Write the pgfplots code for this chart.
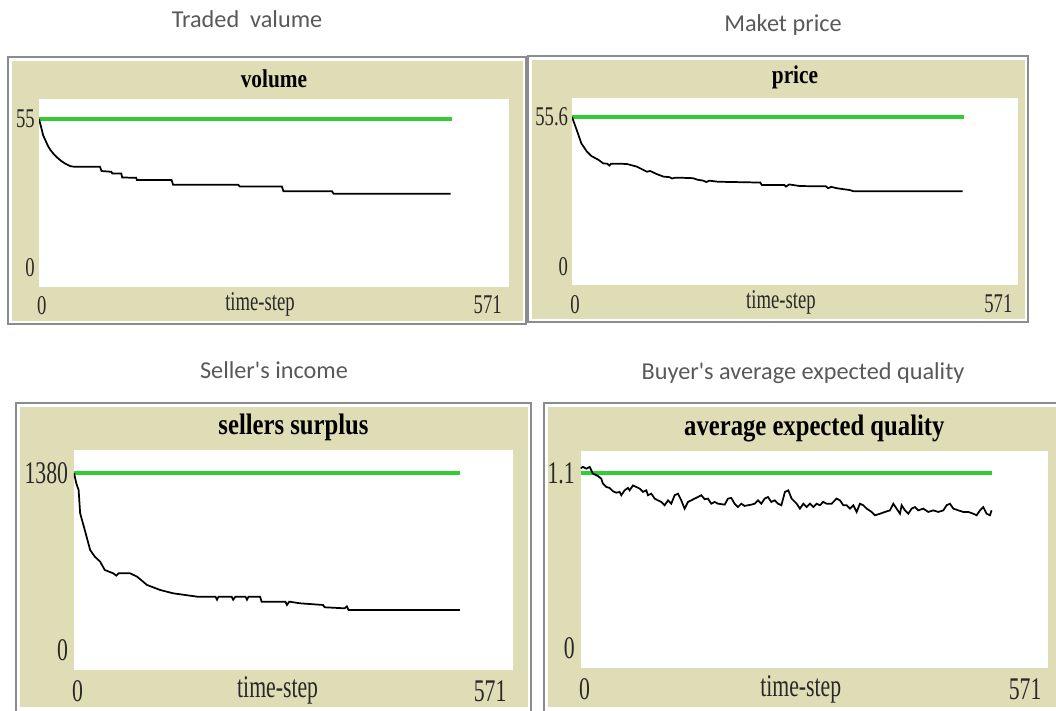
\documentclass[border=0pt]{standalone}
\usepackage{pgfplots}
\pgfplotsset{compat=1.18}
\usepackage{fontspec}
\setmainfont{Liberation Serif}
\newfontfamily\calfont{Carlito}
\definecolor{nlbeige}{RGB}{223,221,181}
\definecolor{nlgreen}{RGB}{50,205,50}
\definecolor{nlframe}{RGB}{140,140,140}
\definecolor{captgray}{RGB}{89,89,89}
\definecolor{nltext}{RGB}{40,40,40}

\pgfplotsset{
  nlbase/.style={
    scale only axis, xmin=0, xmax=571,
    axis line style={draw=none}, major tick length=0pt,
    axis background/.style={fill=white},
    xtick={0}, xticklabels={0},
    extra x ticks={571}, extra x tick labels={571},
    x tick label style={anchor=north, inner sep=0pt, yscale=1.45, text=nltext},
    y tick label style={anchor=east, inner sep=0pt, yscale=1.45, text=nltext},
    title style={at={(axis description cs:0.5,1)}, anchor=base, inner sep=0pt},
    xlabel style={at={(axis description cs:0.5,0)}, anchor=base, inner sep=0pt, text=nltext},
    xlabel={time-step},
  },
  nltop/.style={nlbase,
    tick label style={font=\fontsize{14}{16}\selectfont},
    label style={font=\fontsize{14}{16}\selectfont},
    title style={font=\bfseries\fontsize{16}{18}\selectfont},
  },
  nlbot/.style={nlbase,
    tick label style={font=\fontsize{16.3}{18}\selectfont},
    label style={font=\fontsize{16.3}{18}\selectfont},
    title style={font=\bfseries\fontsize{18.5}{20}\selectfont},
  },
  blk/.style={black, line width=1.3pt},
  grn/.style={nlgreen, line width=3pt},
}

\begin{document}
\begin{tikzpicture}
\fill[white] (0,0) rectangle (792pt,532.5pt);
\path[use as bounding box] (0,0) rectangle (792pt,532.5pt);
\begin{scope}[yshift=532.5pt, x=0.75pt, y=-0.75pt]
  % frames
  \draw[nlframe, line width=1.5pt] (8,57) rectangle (526,324);
  \fill[nlbeige] (11.5,61) rectangle (523,321);
  \draw[nlframe, line width=1.5pt] (528,56) rectangle (1028,322);
  \fill[nlbeige] (532,60) rectangle (1025,319);
  \draw[nlframe, line width=1.5pt] (16,403) rectangle (531,712);
  \fill[nlbeige] (20,407) rectangle (528,707);
  \draw[nlframe, line width=1.5pt] (544,403) rectangle (1060,712);
  \fill[nlbeige] (548,407) rectangle (1056,707);
  % captions
  \begin{scope}[font=\calfont\fontsize{18.2}{21}\selectfont, text=captgray]
    \node at (247,19) {Traded\ \ valume};
    \node at (783,25) {Maket price};
    \node at (274,370) {Seller's income};
    \node at (803,373) {Buyer's average expected quality};
  \end{scope}
\end{scope}

% Panel 1: volume
\begin{axis}[nltop, at={(29.25pt,317.25pt)}, anchor=south west,
  width=352.5pt, height=141pt, ymin=-7.01, ymax=62.38,
  ytick={0,55}, yticklabels={0,55},
  x tick label style={xshift=2pt, yshift=-4.5pt},
  extra x tick style={x tick label style={anchor=north east, xshift=-7.25pt}},
  y tick label style={xshift=-3pt},
  title={volume}, title style={yshift=2.8pt, yscale=1.2},
  xlabel style={yshift=-17.8pt, xshift=-10.5pt, yscale=1.45}]
\addplot[grn] coordinates {(0,55) (502,55)};
\addplot[blk] coordinates {
(0,55) (3,51.5) (5,49) (8,47) (11,45) (14,43.5) (18,42) (22,40.8) (27,39.5)
(32,38.5) (38,37.6) (42,37.4) (74,37.4) (76,35.8) (88,35.5) (89,34.9) (100,34.9)
(101,33.4) (118,33.3) (119,32.5) (161,32.5) (163,30.7) (242,30.7) (244,30.1)
(295,30.1) (297,28.3) (356,28.3) (358,27.4) (500,27.4)};
\node[xshift=-11.25pt, rotate=90, xscale=1.45, inner sep=0pt, text=nltext,
  font=\fontsize{14}{16}\selectfont] at (rel axis cs:0,0.5) {units};
\end{axis}

% Panel 2: price
\begin{axis}[nltop, at={(429pt,318.75pt)}, anchor=south west,
  width=334.5pt, height=140.25pt, ymin=-6.67, ymax=62.64,
  ytick={0,55.6}, yticklabels={0,55.6},
  x tick label style={xshift=2.25pt, yshift=-5pt},
  extra x tick style={x tick label style={anchor=north east, xshift=-6.25pt}},
  y tick label style={xshift=-2.8pt},
  title={price}, title style={yshift=5pt, yscale=1.2},
  xlabel style={yshift=-17.5pt, xshift=-10.6pt, yscale=1.45}]
\addplot[grn] coordinates {(0,55.6) (502,55.6)};
\addplot[blk] coordinates {
(0,55.6) (6,50.8) (12,45.8) (19,42.8) (25,41.1) (34,39.7) (40,38.4) (45,38.3)
(48,37.6) (50,38.3) (70,38.2) (83,37.2) (96,35.3) (100,35.6) (108,34.5)
(117,33.5) (125,33.3) (128,32.8) (132,33.1) (150,33.0) (155,32.9) (160,32.4)
(168,32.0) (172,31.5) (176,32.0) (187,31.6) (241,31.3) (243,30.4) (272,30.4)
(274,29.8) (278,30.6) (292,30.0) (325,29.9) (328,29.2) (332,29.7) (339,29.2)
(356,28.5) (360,28.1) (500,28.1)};
\end{axis}

% Panel 3: sellers surplus
\begin{axis}[nlbot, at={(55.5pt,30pt)}, anchor=south west,
  width=329.25pt, height=165pt, ymin=-155.9, ymax=1559.3,
  ytick={0,1380}, yticklabels={0,1380},
  x tick label style={xshift=2.6pt, yshift=-5.5pt},
  extra x tick style={x tick label style={anchor=north east, xshift=-7.3pt}},
  y tick label style={xshift=-4.3pt},
  title={sellers surplus}, title style={yshift=5.25pt, yscale=1.2},
  xlabel style={yshift=-21pt, xshift=-11.9pt, yscale=1.45}]
\addplot[grn] coordinates {(0,1380) (502,1380)};
\addplot[blk] coordinates {
(0,1380) (3,1300) (6,1247) (8,1066) (14,936) (21,780) (27,728) (34,689)
(40,624) (51,598) (55,580) (58,598) (73,598) (82,572) (95,507) (112,468)
(129,442) (160,416) (184,416) (186,392) (188,416) (205,416) (207,392) (210,416)
(223,416) (225,392) (227,416) (242,416) (244,377) (275,377) (277,351) (280,377)
(294,364) (324,351) (326,333) (352,325) (355,340) (357,312) (502,312)};
\end{axis}

% Panel 4: average expected quality
\begin{axis}[nlbot, at={(435.5pt,31.5pt)}, anchor=south west,
  width=350.5pt, height=163pt, ymin=-0.1257, ymax=1.2402,
  ytick={0,1.1}, yticklabels={0,1.1},
  x tick label style={xshift=3pt, yshift=-5.3pt},
  extra x tick style={x tick label style={anchor=north east, xshift=-7.7pt}},
  y tick label style={xshift=-4.3pt},
  title={average expected quality}, title style={yshift=5pt, yscale=1.2},
  xlabel style={yshift=-21.5pt, xshift=-10.2pt, yscale=1.45}]
\addplot[grn] coordinates {(0,1.1) (502,1.1)};
\addplot[blk] coordinates {
(0,1.13) (2.8,1.138) (6.9,1.127) (10.95,1.138) (15.0,1.096) (21.1,1.081)
(25.2,1.064) (27.2,1.033) (31.3,1.012) (35.4,1.006) (39.5,0.985) (43.5,0.976)
(47.6,0.981) (49.6,0.960) (53.7,0.991) (57.8,1.006) (59.8,0.991) (63.9,1.022)
(68.0,1.012) (72.1,1.002) (76.1,0.981) (80.2,0.991) (82.2,0.960) (86.3,0.970)
(90.4,0.939) (94.4,0.928) (98.5,0.918) (102.6,0.897) (106.7,0.928) (110.7,0.907)
(114.8,0.960) (118.9,0.970) (122.9,0.928) (127.0,0.876) (131.1,0.918) (135.2,0.928)
(139.2,0.939) (143.3,0.949) (147.4,0.960) (151.5,0.935) (155.5,0.939) (159.6,0.907)
(163.7,0.918) (167.8,0.907) (175.9,0.901) (180.0,0.939) (184.0,0.943) (188.1,0.907)
(192.2,0.886) (196.3,0.907) (200.3,0.893) (204.4,0.897) (208.5,0.901) (212.6,0.907)
(216.6,0.928) (220.7,0.907) (224.8,0.939) (228.9,0.949) (232.9,0.918) (237.0,0.928)
(241.1,0.907) (245.2,0.897) (249.6,0.981) (253.7,0.991) (257.7,0.939) (263.9,0.907)
(267.9,0.876) (272.0,0.907) (276.1,0.886) (280.2,0.907) (284.2,0.886) (288.3,0.907)
(292.4,0.897) (296.4,0.918) (300.5,0.907) (306.6,0.907) (312.7,0.939) (316.8,0.928)
(320.9,0.897) (324.9,0.897) (329.0,0.876) (333.1,0.897) (337.2,0.855) (341.2,0.907)
(345.3,0.897) (349.4,0.876) (355.5,0.855) (359.6,0.834) (365.7,0.844) (371.8,0.855)
(377.9,0.865) (382.0,0.907) (386.0,0.876) (390.1,0.844) (392.2,0.897) (396.2,0.865)
(400.3,0.844) (404.4,0.876) (408.4,0.886) (412.5,0.865) (418.6,0.876) (424.7,0.855)
(430.8,0.865) (436.9,0.855) (443.1,0.865) (447.1,0.897) (451.2,0.907) (455.3,0.876)
(461.4,0.865) (467.5,0.855) (473.6,0.855) (479.7,0.844) (483.8,0.834) (487.9,0.865)
(491.9,0.886) (496.0,0.844) (500.1,0.834) (502.1,0.865)};
\end{axis}
\end{tikzpicture}
\end{document}
